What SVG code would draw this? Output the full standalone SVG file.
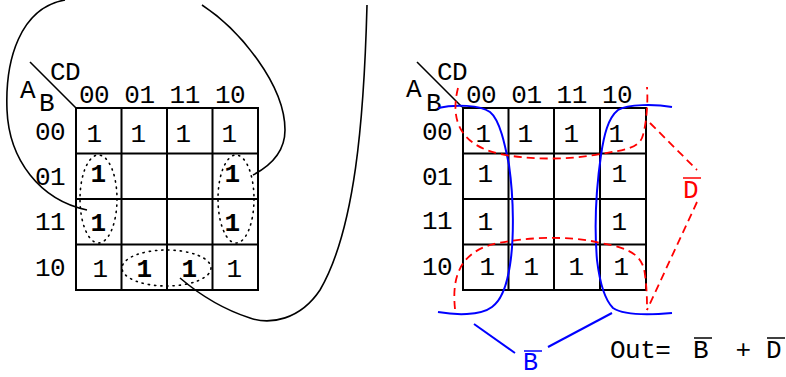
<svg xmlns="http://www.w3.org/2000/svg" width="786" height="377" viewBox="0 0 786 377">
<style>
text{font-family:"Liberation Mono","Courier New",monospace;font-size:26px;letter-spacing:-0.5px;fill:#000}
.b{font-weight:bold}
.m{text-anchor:middle}
.grid{fill:none;stroke:#000;stroke-width:2}
.dot{fill:none;stroke:#000;stroke-width:1.6;stroke-dasharray:1.2 5;stroke-linecap:round}
.k{fill:none;stroke:#000;stroke-width:1.6}
.blue{fill:none;stroke:#00f;stroke-width:2}
.red{fill:none;stroke:#f00;stroke-width:1.8;stroke-dasharray:8 5}
</style>
<rect width="786" height="377" fill="#fff"/>
<g id="map-left">
<path class="grid" d="M76,108H258V290H76Z M121.5,108V290 M167,108V290 M212.5,108V290 M76,153.5H258 M76,199H258 M76,244.5H258"/>
<line class="k" x1="30" y1="62" x2="76" y2="108"/>
<text x="50" y="80">CD</text>
<text x="20" y="98">A</text>
<text x="39" y="111">B</text>
<text x="79" y="103">00 01 11 10</text>
<text class="m" x="50" y="140">00</text>
<text class="m" x="50" y="185">01</text>
<text class="m" x="50" y="230">11</text>
<text class="m" x="50" y="276">10</text>
<text class="m" x="94" y="142">1</text>
<text class="m" x="138" y="142">1</text>
<text class="m" x="183" y="142">1</text>
<text class="m" x="229" y="142">1</text>
<text class="m b" x="98" y="182">1</text>
<text class="m b" x="232" y="182">1</text>
<text class="m b" x="98" y="231">1</text>
<text class="m b" x="232" y="231">1</text>
<text class="m" x="100" y="277">1</text>
<text class="m b" x="144" y="277">1</text>
<text class="m b" x="189" y="277">1</text>
<text class="m" x="234" y="277">1</text>
<ellipse class="dot" cx="98.5" cy="199" rx="18.5" ry="44"/>
<ellipse class="dot" cx="236" cy="199" rx="18" ry="44"/>
<ellipse class="dot" cx="166.5" cy="268" rx="44.5" ry="18"/>
</g>
<g id="map-right">
<path class="grid" d="M463,108H646V290H463Z M508.5,108V290 M554,108V290 M600,108V290 M463,153.5H646 M463,199H646 M463,244.5H646"/>
<line class="k" x1="417" y1="62" x2="462" y2="107"/>
<text x="437" y="80">CD</text>
<text x="406" y="97">A</text>
<text x="426" y="111">B</text>
<text x="466" y="103">00 01 11 10</text>
<text class="m" x="437" y="140">00</text>
<text class="m" x="437" y="185">01</text>
<text class="m" x="437" y="229">11</text>
<text class="m" x="437" y="275">10</text>
<text class="m" x="483" y="142">1</text>
<text class="m" x="525" y="142">1</text>
<text class="m" x="571" y="142">1</text>
<text class="m" x="616" y="142">1</text>
<text class="m" x="485" y="182">1</text>
<text class="m" x="619" y="182">1</text>
<text class="m" x="485" y="230">1</text>
<text class="m" x="619" y="230">1</text>
<text class="m" x="487" y="275">1</text>
<text class="m" x="531" y="275">1</text>
<text class="m" x="576" y="275">1</text>
<text class="m" x="621" y="275">1</text>
</g>
<g id="connectors">
<path class="k" d="M65,0 C20,8 5,60 7,110 C9,160 40,200 87,210"/>
<path class="k" d="M202,5 C240,30 285,85 285,130 C285,150 272,165 253,175"/>
<path class="k" d="M367,5 C364,120 355,230 320,290 C300,320 270,325 250,318 C225,310 200,295 180,278"/>
<path class="blue" d="M438,108 C455,104 480,105 490,112 C500,120 505,145 509,165 C514,200 514,240 510,265 C507,285 502,300 492,307 C480,316 455,315 438,312"/>
<path class="blue" d="M672,107 C655,104 628,104 618,110 C608,118 604,135 601,155 C596,190 594,225 597,260 C600,285 605,300 613,308 C625,316 650,315 672,313"/>
<line class="blue" x1="474" y1="324" x2="515" y2="353"/>
<line class="blue" x1="612" y1="313" x2="548" y2="347"/>
<path class="red" d="M458,88 C450,120 460,145 500,154 C530,160 570,160 600,154 C625,150 640,148 643,135 C647,120 648,100 647,87"/>
<path class="red" d="M455,309 C452,280 458,255 490,245 C520,237 570,235 600,243 C630,248 643,255 645,275 C647,290 647,300 647,310"/>
<line class="red" x1="650" y1="123" x2="697" y2="170"/>
<line class="red" x1="697" y1="202" x2="647" y2="310"/>
</g>
<g id="labels">
<text x="523" y="370" style="fill:#00f;font-size:25px">B</text>
<line x1="524" y1="351" x2="542" y2="351" stroke="#00f" stroke-width="1.5"/>
<text x="683" y="198" style="fill:#f00">D</text>
<line x1="683" y1="178" x2="701" y2="178" stroke="#f00" stroke-width="1.5"/>
<text x="610" y="358">Out=</text>
<text x="693" y="358">B</text>
<line x1="694" y1="338" x2="712" y2="338" stroke="#000" stroke-width="1.5"/>
<text class="m" x="743" y="358">+</text>
<text x="766" y="358">D</text>
<line x1="767" y1="338" x2="785" y2="338" stroke="#000" stroke-width="1.5"/>
</g>
</svg>
